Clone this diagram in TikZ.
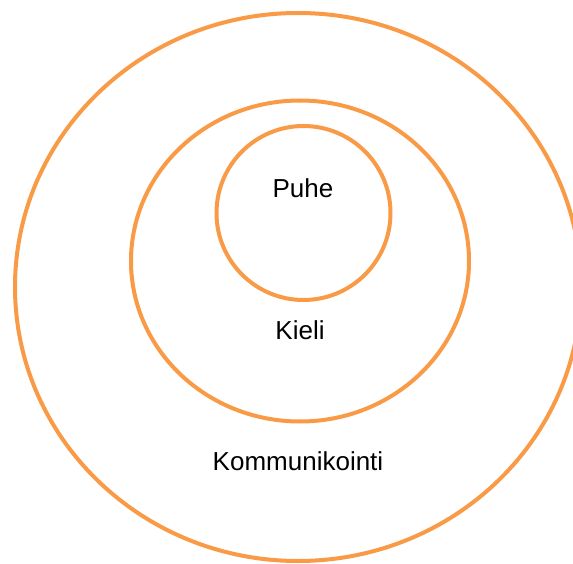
\documentclass[tikz,border=0pt]{standalone}
\usepackage{fontspec}
\setmainfont{Liberation Sans}
\begin{document}
\begin{tikzpicture}[
  x=1pt, y=-1pt,
  every node/.style={font=\fontsize{26}{30}\selectfont, align=center, inner sep=0pt},
  kehae/.style={draw=kehavari, line width=4pt},
]
\definecolor{kehavari}{HTML}{F99A47}
\useasboundingbox (0,0) rectangle (573,564);
% Sisäkkäiset kehät
\draw[kehae] (298,287) ellipse [x radius=283, y radius=274];
\draw[kehae] (300,261) ellipse [x radius=169, y radius=160.5];
\draw[kehae] (303.5,213) circle [radius=87];
% Tekstit
\node (puhe) at (303,188) {Puhe};
\node (kieli) at (300,330) {Kieli};
\node (kommunikointi) at (298,461) {Kommunikointi};
\end{tikzpicture}
\end{document}
